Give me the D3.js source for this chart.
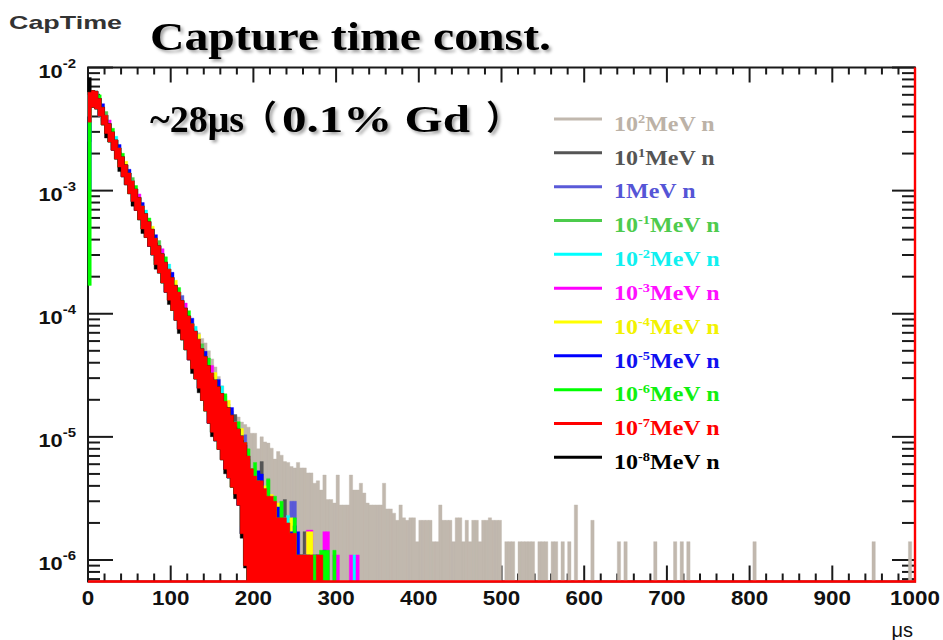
<!DOCTYPE html>
<html>
<head>
<meta charset="utf-8">
<script src="https://cdn.jsdelivr.net/npm/d3@7"></script>
<style>
  html, body { margin: 0; padding: 0; background: #fff; }
  svg { display: block; }
</style>
</head>
<body>
<svg id="chart" width="943" height="640"></svg>
<script>
// Neutron capture time, one histogram per incident energy.
// Contents are kept per 4 us slot: the top of each slot, and (through bandDepth)
// the lowest content found inside it while counts are still high.
const slotWidth = 4;

const energyExp = [2, 1, 0, -1, -2, -3, -4, -5, -6, -7, -8];
const lineColors = ["#c1b8ae", "#555555", "#5a5ad8", "#4ccb4c", "#00ffff", "#ff00ff",
                    "#ffff00", "#0000ff", "#00ff00", "#ff0000", "#000000"];
const textColors = ["#bcb2a7", "#555555", "#5555d6", "#4ecb4e", "#10f0f0", "#ff10ff",
                    "#f2f200", "#1010f0", "#10f010", "#ff0000", "#000000"];
// lowest content reached inside the first slot
const startLo = [4.5e-3, 4.0e-3, 2.5e-3, 4.0e-3, 4.0e-3, 4.0e-3, 4.0e-3, 1.0e-3, 1.7e-4, 3.6e-3, 6.0e-3];

// ratio lowest/highest content within a slot; past the end the slot reaches empty bins
const bandDepth = [0.73, 0.73, 0.72, 0.72, 0.72, 0.71, 0.71, 0.71, 0.70, 0.70,
  0.69, 0.69, 0.68, 0.68, 0.67, 0.66, 0.65, 0.64, 0.63, 0.62,
  0.61, 0.60, 0.58, 0.57, 0.56, 0.54, 0.52, 0.50, 0.48, 0.46,
  0.44, 0.43, 0.41, 0.40, 0.38, 0.36, 0.34, 0.33, 0.32, 0.31,
  0.29, 0.28, 0.27, 0.26, 0.26, 0.24, 0.16, 0.10];

const hist100MeV = [6.3e-3, 6.5e-3, 6.4e-3, 5.6e-3, 4.75e-3, 4.1e-3, 3.5e-3, 3.0e-3, 2.58e-3, 2.22e-3,
  1.88e-3, 1.62e-3, 1.39e-3, 1.2e-3, 1.03e-3, 8.8e-4, 7.5e-4, 6.5e-4, 5.6e-4, 4.85e-4,
  4.1e-4, 3.57e-4, 3.07e-4, 2.62e-4, 2.3e-4, 1.97e-4, 1.7e-4, 1.5e-4, 1.28e-4, 1.11e-4,
  9.6e-5, 8.3e-5, 7.4e-5, 7.0e-5, 6.3e-5, 5.8e-5, 5.0e-5, 4.3e-5, 3.7e-5, 3.1e-5,
  2.6e-5, 2.15e-5, 1.85e-5, 1.62e-5, 1.48e-5, 1.45e-5, 1.32e-5, 1.26e-5, 1.2e-5, 1.07e-5,
  1.07e-5, 8.0e-6, 1.0e-5, 9.1e-6, 8.9e-6, 8.1e-6, 6.6e-6, 7.6e-6, 7.1e-6, 6.3e-6,
  6.2e-6, 5.75e-6, 5.6e-6, 6.2e-6, 5.6e-6, 5.6e-6, 5.1e-6, 5.1e-6, 4.2e-6, 4.4e-6,
  3.7e-6, 4.9e-6, 3.1e-6, 3.1e-6, 2.9e-6, 4.9e-6, 2.8e-6, 2.8e-6, 2.8e-6, 4.9e-6,
  3.7e-6, 3.7e-6, 4.2e-6, 3.5e-6, 2.9e-6, 2.8e-6, 2.8e-6, 2.8e-6, 2.8e-6, 4.2e-6,
  2.6e-6, 2.6e-6, 2.4e-6, 2.1e-6, 2.8e-6, 2.2e-6, 2.1e-6, 2.2e-6, 2.2e-6, 1.41e-6,
  2.1e-6, 2.1e-6, 2.1e-6, 2.1e-6, 1.41e-6, 1.41e-6, 2.8e-6, 2.1e-6, 2.1e-6, 2.1e-6,
  1.41e-6, 2.2e-6, 2.2e-6, 1.41e-6, 2.1e-6, 1.41e-6, 2.1e-6, 2.1e-6, 1.41e-6, 2.1e-6,
  2.1e-6, 2.2e-6, 2.1e-6, 2.1e-6, 2.1e-6, 0, 1.41e-6, 1.41e-6, 1.41e-6, 0,
  1.41e-6, 1.41e-6, 1.41e-6, 1.41e-6, 1.41e-6, 0, 1.41e-6, 1.41e-6, 1.41e-6, 0,
  1.41e-6, 1.41e-6, 0, 1.41e-6, 0, 1.41e-6, 0, 2.8e-6, 0, 0,
  0, 0, 2.1e-6, 0, 0, 0, 0, 0, 0, 0,
  1.41e-6, 0, 1.41e-6, 0, 0, 0, 0, 0, 0, 0,
  0, 1.41e-6, 0, 0, 0, 0, 0, 1.41e-6, 0, 1.41e-6,
  0, 1.41e-6, 0, 0, 0, 0, 0, 0, 0, 0,
  0, 0, 0, 0, 0, 0, 0, 0, 0, 0,
  0, 1.41e-6, 0, 0, 0, 0, 0, 0, 0, 0,
  0, 0, 0, 0, 0, 0, 0, 0, 0, 0,
  0, 0, 0, 0, 0, 0, 0, 0, 0, 0,
  0, 0, 0, 0, 0, 0, 0, 1.41e-6, 0, 0,
  0, 0, 0, 0, 0, 0, 0, 0, 1.41e-6];

const hist10MeV = [6.3e-3, 6.5e-3, 6.4e-3, 5.6e-3, 4.75e-3, 4.1e-3, 3.5e-3, 3.0e-3, 2.58e-3, 2.22e-3,
  1.88e-3, 1.62e-3, 1.39e-3, 1.2e-3, 1.03e-3, 8.8e-4, 7.5e-4, 6.5e-4, 5.6e-4, 4.85e-4,
  4.1e-4, 3.57e-4, 3.07e-4, 2.62e-4, 2.3e-4, 1.97e-4, 1.7e-4, 1.5e-4, 1.28e-4, 1.11e-4,
  9.6e-5, 8.3e-5, 7.2e-5, 6.2e-5, 5.2e-5, 4.5e-5, 3.8e-5, 3.3e-5, 2.9e-5, 2.55e-5,
  2.25e-5, 1.95e-5, 1.72e-5, 1.5e-5, 1.52e-5, 1.16e-5, 1.02e-5, 9.0e-6, 6.6e-6, 5.5e-6,
  4.4e-6, 4.4e-6, 6.3e-6, 3.3e-6, 3.3e-6, 2.2e-6, 2.2e-6, 2.2e-6, 2.2e-6, 3.1e-6,
  1.1e-6, 1.1e-6, 1.1e-6, 1.1e-6, 1.1e-6, 1.7e-6, 1.7e-6, 1.1e-6];

const hist1MeV = [6.3e-3, 6.5e-3, 6.4e-3, 5.6e-3, 4.75e-3, 4.1e-3, 3.5e-3, 3.0e-3, 2.58e-3, 2.22e-3,
  1.88e-3, 1.62e-3, 1.39e-3, 1.2e-3, 1.03e-3, 8.8e-4, 7.5e-4, 6.5e-4, 5.6e-4, 4.85e-4,
  4.1e-4, 3.57e-4, 3.07e-4, 2.62e-4, 2.3e-4, 1.97e-4, 1.7e-4, 1.5e-4, 1.41e-4, 1.11e-4,
  9.6e-5, 8.3e-5, 7.2e-5, 6.2e-5, 5.2e-5, 4.5e-5, 3.8e-5, 3.3e-5, 2.9e-5, 2.55e-5,
  2.25e-5, 1.95e-5, 1.72e-5, 1.5e-5, 1.32e-5, 1.16e-5, 1.02e-5, 1.04e-5, 6.6e-6, 4.4e-6,
  4.4e-6, 3.3e-6, 3.3e-6, 3.3e-6, 2.2e-6, 2.2e-6, 2.2e-6, 2.2e-6, 1.1e-6, 1.1e-6,
  1.1e-6, 3.0e-6, 3.0e-6, 1.1e-6, 1.1e-6, 0, 1.1e-6];

const hist100keV = [6.3e-3, 6.5e-3, 6.4e-3, 5.6e-3, 4.75e-3, 4.39e-3, 3.5e-3, 3.0e-3, 2.58e-3, 2.22e-3,
  1.88e-3, 1.62e-3, 1.39e-3, 1.28e-3, 1.03e-3, 8.8e-4, 7.5e-4, 6.5e-4, 5.6e-4, 4.85e-4,
  4.1e-4, 3.93e-4, 3.07e-4, 2.62e-4, 2.3e-4, 1.97e-4, 1.7e-4, 1.5e-4, 1.28e-4, 1.11e-4,
  9.6e-5, 8.3e-5, 7.2e-5, 6.2e-5, 5.7e-5, 4.5e-5, 3.8e-5, 3.3e-5, 2.9e-5, 2.55e-5,
  2.25e-5, 1.95e-5, 1.72e-5, 1.5e-5, 1.32e-5, 1.16e-5, 1.02e-5, 9.0e-6, 6.6e-6, 5.0e-6,
  4.4e-6, 4.0e-6, 3.3e-6, 3.3e-6, 4.6e-6, 2.2e-6, 2.2e-6, 2.2e-6, 1.1e-6, 1.1e-6,
  2.2e-6, 1.1e-6, 1.1e-6, 1.1e-6, 1.1e-6, 0, 1.1e-6, 1.1e-6, 1.1e-6, 1.1e-6,
  1.1e-6];

const hist10keV = [6.3e-3, 6.5e-3, 6.4e-3, 5.6e-3, 4.75e-3, 4.1e-3, 3.5e-3, 3.0e-3, 2.76e-3, 2.22e-3,
  1.88e-3, 1.62e-3, 1.39e-3, 1.2e-3, 1.03e-3, 8.8e-4, 7.5e-4, 6.95e-4, 5.6e-4, 4.85e-4,
  4.1e-4, 3.57e-4, 3.07e-4, 2.62e-4, 2.53e-4, 1.97e-4, 1.7e-4, 1.5e-4, 1.28e-4, 1.11e-4,
  9.6e-5, 8.3e-5, 7.9e-5, 6.2e-5, 5.2e-5, 4.5e-5, 3.8e-5, 3.3e-5, 2.9e-5, 2.55e-5,
  2.59e-5, 1.95e-5, 1.72e-5, 1.5e-5, 1.32e-5, 1.16e-5, 1.02e-5, 9.0e-6, 6.0e-6, 4.4e-6,
  3.3e-6, 3.3e-6, 2.2e-6, 3.3e-6, 2.2e-6, 2.2e-6, 1.1e-6, 2.2e-6, 1.1e-6, 2.2e-6,
  2.3e-6, 1.1e-6, 1.1e-6, 1.1e-6, 0, 1.1e-6, 1.1e-6, 0, 0, 0,
  1.1e-6, 0, 0, 0, 0, 0, 0, 0, 0, 0,
  1.1e-6];

const hist1keV = [6.3e-3, 6.5e-3, 6.4e-3, 5.6e-3, 4.75e-3, 4.1e-3, 3.75e-3, 3.0e-3, 2.58e-3, 2.22e-3,
  1.88e-3, 1.62e-3, 1.39e-3, 1.2e-3, 1.03e-3, 9.4e-4, 7.5e-4, 6.5e-4, 5.6e-4, 4.85e-4,
  4.1e-4, 3.57e-4, 3.38e-4, 2.62e-4, 2.3e-4, 1.97e-4, 1.7e-4, 1.5e-4, 1.28e-4, 1.22e-4,
  9.6e-5, 8.3e-5, 7.2e-5, 6.2e-5, 5.2e-5, 4.5e-5, 3.8e-5, 3.8e-5, 2.9e-5, 2.55e-5,
  2.25e-5, 1.95e-5, 1.72e-5, 1.5e-5, 1.32e-5, 1.16e-5, 1.02e-5, 9.0e-6, 6.0e-6, 4.4e-6,
  4.4e-6, 3.3e-6, 3.3e-6, 2.2e-6, 2.2e-6, 2.2e-6, 2.2e-6, 1.1e-6, 2.2e-6, 1.1e-6,
  1.1e-6, 1.1e-6, 1.1e-6, 0, 1.1e-6, 1.1e-6, 1.75e-6, 1.75e-6, 1.1e-6, 1.1e-6,
  0, 1.7e-6, 1.7e-6, 0, 1.1e-6, 1.1e-6, 0, 0, 0, 1.1e-6,
  0, 1.1e-6];

const hist100eV = [6.3e-3, 6.5e-3, 6.4e-3, 5.6e-3, 4.75e-3, 4.1e-3, 3.5e-3, 3.0e-3, 2.58e-3, 2.22e-3,
  1.88e-3, 1.73e-3, 1.39e-3, 1.2e-3, 1.03e-3, 8.8e-4, 7.5e-4, 6.5e-4, 5.6e-4, 5.14e-4,
  4.1e-4, 3.57e-4, 3.07e-4, 2.62e-4, 2.3e-4, 1.97e-4, 1.87e-4, 1.5e-4, 1.28e-4, 1.11e-4,
  9.6e-5, 8.3e-5, 7.2e-5, 6.8e-5, 5.2e-5, 4.5e-5, 3.8e-5, 3.3e-5, 3.33e-5, 2.55e-5,
  2.25e-5, 1.95e-5, 1.98e-5, 1.5e-5, 1.32e-5, 1.16e-5, 1.17e-5, 9.0e-6, 6.6e-6, 5.0e-6,
  4.4e-6, 3.3e-6, 3.3e-6, 4.0e-6, 2.2e-6, 3.4e-6, 2.2e-6, 2.9e-6, 2.2e-6, 1.1e-6,
  1.1e-6, 2.2e-6, 1.1e-6, 1.1e-6, 1.1e-6, 1.1e-6, 1.7e-6, 1.7e-6, 1.1e-6, 0,
  1.1e-6];

const hist10eV = [6.3e-3, 6.5e-3, 6.4e-3, 5.6e-3, 5.08e-3, 4.1e-3, 3.5e-3, 3.0e-3, 2.58e-3, 2.37e-3,
  1.88e-3, 1.62e-3, 1.49e-3, 1.2e-3, 1.03e-3, 8.8e-4, 8.0e-4, 6.5e-4, 5.6e-4, 4.85e-4,
  4.39e-4, 3.57e-4, 3.07e-4, 2.62e-4, 2.3e-4, 2.17e-4, 1.7e-4, 1.5e-4, 1.28e-4, 1.11e-4,
  9.6e-5, 9.2e-5, 7.2e-5, 6.2e-5, 5.2e-5, 4.95e-5, 3.8e-5, 3.3e-5, 2.9e-5, 2.93e-5,
  2.25e-5, 1.95e-5, 1.72e-5, 1.73e-5, 1.32e-5, 1.16e-5, 1.02e-5, 9.0e-6, 7.0e-6, 5.0e-6,
  4.0e-6, 5.3e-6, 5.0e-6, 3.3e-6, 3.0e-6, 2.2e-6, 2.6e-6, 2.7e-6, 2.2e-6, 1.1e-6,
  1.1e-6, 1.7e-6, 1.9e-6, 1.7e-6, 1.1e-6, 1.1e-6, 1.1e-6, 0, 1.1e-6, 1.1e-6,
  0, 1.2e-6];

const hist1eV = [6.3e-3, 6.5e-3, 6.4e-3, 6.0e-3, 4.75e-3, 4.1e-3, 3.5e-3, 3.21e-3, 2.58e-3, 2.22e-3,
  2.01e-3, 1.62e-3, 1.39e-3, 1.2e-3, 1.1e-3, 8.8e-4, 7.5e-4, 6.5e-4, 6.0e-4, 4.85e-4,
  4.1e-4, 3.57e-4, 3.07e-4, 2.9e-4, 2.3e-4, 1.97e-4, 1.7e-4, 1.63e-4, 1.28e-4, 1.11e-4,
  1.06e-4, 8.3e-5, 7.2e-5, 6.2e-5, 5.2e-5, 4.5e-5, 4.37e-5, 3.3e-5, 2.9e-5, 2.55e-5,
  2.25e-5, 2.24e-5, 1.72e-5, 1.5e-5, 1.32e-5, 1.33e-5, 1.02e-5, 9.0e-6, 8.0e-6, 5.5e-6,
  6.2e-6, 4.4e-6, 4.0e-6, 3.3e-6, 4.5e-6, 2.2e-6, 3.3e-6, 2.2e-6, 3.0e-6, 1.1e-6,
  2.0e-6, 1.1e-6, 2.2e-6, 1.1e-6, 1.1e-6, 0, 1.1e-6, 1.1e-6, 1.1e-6, 1.1e-6,
  1.2e-6, 1.2e-6, 1.2e-6, 0, 1.2e-6];

const hist100meV = [6.3e-3, 6.5e-3, 6.4e-3, 5.6e-3, 4.75e-3, 4.1e-3, 3.5e-3, 3.0e-3, 2.58e-3, 2.22e-3,
  1.88e-3, 1.62e-3, 1.39e-3, 1.2e-3, 1.03e-3, 8.8e-4, 7.5e-4, 6.5e-4, 5.6e-4, 4.85e-4,
  4.1e-4, 3.57e-4, 3.07e-4, 2.62e-4, 2.3e-4, 1.97e-4, 1.7e-4, 1.5e-4, 1.28e-4, 1.11e-4,
  9.6e-5, 8.3e-5, 7.2e-5, 6.2e-5, 5.2e-5, 4.5e-5, 3.8e-5, 3.3e-5, 2.9e-5, 2.55e-5,
  2.25e-5, 1.95e-5, 1.72e-5, 1.5e-5, 1.32e-5, 1.16e-5, 1.02e-5, 9.0e-6, 7.0e-6, 5.5e-6,
  4.8e-6, 4.4e-6, 4.4e-6, 3.8e-6, 3.3e-6, 3.3e-6, 3.0e-6, 2.2e-6, 2.2e-6, 2.2e-6,
  2.0e-6, 1.65e-6, 1.65e-6, 1.1e-6, 1.1e-6, 1.1e-6, 1.1e-6, 1.1e-6, 0, 1.1e-6,
  1.1e-6];

const hist10meV = [8.3e-3, 6.5e-3, 6.4e-3, 5.6e-3, 4.75e-3, 3.77e-3, 3.5e-3, 3.0e-3, 2.58e-3, 2.04e-3,
  1.88e-3, 1.62e-3, 1.39e-3, 1.1e-3, 1.03e-3, 8.8e-4, 6.9e-4, 6.5e-4, 5.6e-4, 4.85e-4,
  3.77e-4, 3.57e-4, 3.07e-4, 2.62e-4, 2.12e-4, 1.97e-4, 1.7e-4, 1.38e-4, 1.28e-4, 1.11e-4,
  9.6e-5, 7.6e-5, 7.2e-5, 5.7e-5, 5.2e-5, 4.5e-5, 3.8e-5, 3.04e-5, 2.9e-5, 2.55e-5,
  2.25e-5, 1.79e-5, 1.72e-5, 1.5e-5, 1.21e-5, 1.16e-5, 9.4e-6, 8.6e-6, 5.0e-6, 3.3e-6,
  2.2e-6, 1.1e-6];

const seriesValues = [hist100MeV, hist10MeV, hist1MeV, hist100keV, hist10keV, hist1keV,
                      hist100eV, hist10eV, hist1eV, hist100meV, hist10meV];
// 10^-8 MeV is drawn before 10^-7 MeV, which lies on top
const drawOrder = [0, 1, 2, 3, 4, 5, 6, 7, 8, 10, 9];

const xTickMajor = d3.range(0, 1001, 100);
const xTickMinor = d3.range(0, 1001, 20);
const yDecades = [-6, -5, -4, -3, -2];

// ---------------------------------------------------------------------------
const svg = d3.select("#chart");
const frame = { left: 88, right: 915, top: 67.5, bottom: 581.5 };
const yFloor = Math.pow(10, -6 - 21.5 / 123.12);

const x = d3.scaleLinear().domain([0, 1000]).range([frame.left, frame.right]);
const y = d3.scaleLog().domain([yFloor, 1e-2]).range([frame.bottom, frame.top]);

const defs = svg.append("defs");
const shadow = defs.append("filter").attr("id", "shadow")
  .attr("x", "-5%").attr("y", "-20%").attr("width", "115%").attr("height", "150%");
shadow.append("feDropShadow").attr("dx", 2.5).attr("dy", 2.5).attr("stdDeviation", 1.6)
  .attr("flood-color", "#000").attr("flood-opacity", 0.35);

svg.append("rect").attr("width", 943).attr("height", 640).attr("fill", "#fff");

// ---- frame and tick marks ----
const axes = svg.append("g").attr("stroke", "#1a1a1a").attr("stroke-width", 2).attr("fill", "none");
axes.append("rect")
  .attr("x", frame.left).attr("y", frame.top)
  .attr("width", frame.right - frame.left).attr("height", frame.bottom - frame.top);

xTickMinor.forEach(t => {
  const major = t % 100 === 0;
  const len = major ? 16 : 8;
  const lenTop = major ? 15 : 7;
  axes.append("line").attr("x1", x(t)).attr("x2", x(t))
    .attr("y1", frame.bottom).attr("y2", frame.bottom - len);
  axes.append("line").attr("x1", x(t)).attr("x2", x(t))
    .attr("y1", frame.top).attr("y2", frame.top + lenTop);
});

const yTicks = [];
for (let e = -7; e <= -2; e++) {
  for (let m = 1; m <= 9; m++) {
    const v = m * Math.pow(10, e);
    if (v >= yFloor && v <= 1.0001e-2) yTicks.push({ v, major: m === 1 });
  }
}
yTicks.forEach(t => {
  const yy = y(t.v);
  axes.append("line").attr("x1", frame.left).attr("x2", frame.left + (t.major ? 25 : 12))
    .attr("y1", yy).attr("y2", yy);
  axes.append("line").attr("x1", frame.right).attr("x2", frame.right - (t.major ? 23 : 13))
    .attr("y1", yy).attr("y2", yy);
});

// ---- histograms ----
function slotPath(values, lowFirst) {
  const p = d3.path();
  values.forEach((v, i) => {
    if (!(v > 0)) return;
    const depth = i === 0 ? lowFirst / v : (i < bandDepth.length ? bandDepth[i] : 0);
    const lo = v * depth;
    const x0 = x(i * slotWidth), x1 = x((i + 1) * slotWidth);
    const yTop = y(v);
    const yBot = lo > yFloor ? y(lo) : y(yFloor);
    p.rect(x0, yTop, x1 - x0, yBot - yTop);
  });
  return p.toString();
}

const histLayer = svg.append("g");
drawOrder.forEach(k => {
  histLayer.append("path")
    .attr("d", slotPath(seriesValues[k], startLo[k]))
    .attr("fill", lineColors[k])
    .attr("stroke", lineColors[k])
    .attr("stroke-width", 0.4);
});

// empty bins of the top histogram run along the floor and up the last edge
histLayer.append("path")
  .attr("d", `M${x(0)},${y(yFloor)}H${x(1000)}V${y(1e-2)}`)
  .attr("fill", "none").attr("stroke", lineColors[9]).attr("stroke-width", 2.4);

// ---- tick labels ----
const sans = "'Liberation Sans', Arial, Helvetica, sans-serif";
const serif = "'Liberation Serif', 'Times New Roman', Times, serif";
const cjk = "'Noto Sans CJK SC', 'Noto Sans CJK JP', sans-serif";

xTickMajor.forEach(t => {
  svg.append("g").attr("transform", `translate(${x(t)},605) scale(1.12,1)`)
    .append("text").attr("text-anchor", "middle")
    .attr("font-family", sans).attr("font-weight", "bold").attr("font-size", 20)
    .attr("fill", "#111").text(t);
});

yDecades.forEach(e => {
  const g = svg.append("g").attr("transform", `translate(76,${y(Math.pow(10, e))}) scale(1.15,1)`);
  const txt = g.append("text").attr("text-anchor", "end").attr("y", 10)
    .attr("font-family", sans).attr("font-weight", "bold").attr("fill", "#111");
  txt.append("tspan").attr("font-size", 19).text("10");
  txt.append("tspan").attr("dy", -10).attr("font-size", 13).text(String(e));
});

svg.append("text").attr("x", 913).attr("y", 637).attr("text-anchor", "end")
  .attr("font-family", sans).attr("font-size", 20).attr("fill", "#111").text("μs");

svg.append("text").attr("x", 9).attr("y", 29)
  .attr("font-family", sans).attr("font-weight", "bold").attr("font-size", 19)
  .attr("textLength", 113).attr("lengthAdjust", "spacingAndGlyphs")
  .attr("fill", "#333").text("CapTime");

// ---- headline text ----
svg.append("text").attr("x", 150).attr("y", 50)
  .attr("font-family", serif).attr("font-weight", "bold").attr("font-size", 40)
  .attr("textLength", 401).attr("lengthAdjust", "spacingAndGlyphs")
  .attr("filter", "url(#shadow)").attr("fill", "#000").text("Capture time const.");

const sub = svg.append("g").attr("filter", "url(#shadow)").attr("fill", "#000");
sub.append("text").attr("x", 150).attr("y", 132)
  .attr("font-family", serif).attr("font-weight", "bold").attr("font-size", 38)
  .text("~28μs");
sub.append("text").attr("x", 243).attr("y", 130)
  .attr("font-family", cjk).attr("font-weight", "bold").attr("font-size", 34)
  .text("（");
sub.append("text").attr("x", 282).attr("y", 132)
  .attr("font-family", serif).attr("font-weight", "bold").attr("font-size", 38)
  .attr("textLength", 188).attr("lengthAdjust", "spacingAndGlyphs")
  .text("0.1% Gd");
sub.append("text").attr("x", 486).attr("y", 130)
  .attr("font-family", cjk).attr("font-weight", "bold").attr("font-size", 34)
  .text("）");

// ---- legend ----
const legendTop = 119, legendStep = 33.83;
energyExp.forEach((e, k) => {
  const ly = legendTop + k * legendStep;
  svg.append("line").attr("x1", 554).attr("x2", 602).attr("y1", ly).attr("y2", ly)
    .attr("stroke", lineColors[k]).attr("stroke-width", 3);
  const g = svg.append("g").attr("transform", `translate(614,${ly + 11.7}) scale(1.2,1)`);
  const txt = g.append("text").attr("font-family", serif).attr("font-weight", "bold")
    .attr("font-size", 20).attr("fill", textColors[k]);
  if (e === 0) {
    txt.append("tspan").text("1MeV n");
  } else {
    txt.append("tspan").text("10");
    txt.append("tspan").attr("font-size", 12).attr("dy", -8).text(String(e));
    txt.append("tspan").attr("dy", 8).text("MeV n");
  }
});
</script>
</body>
</html>
